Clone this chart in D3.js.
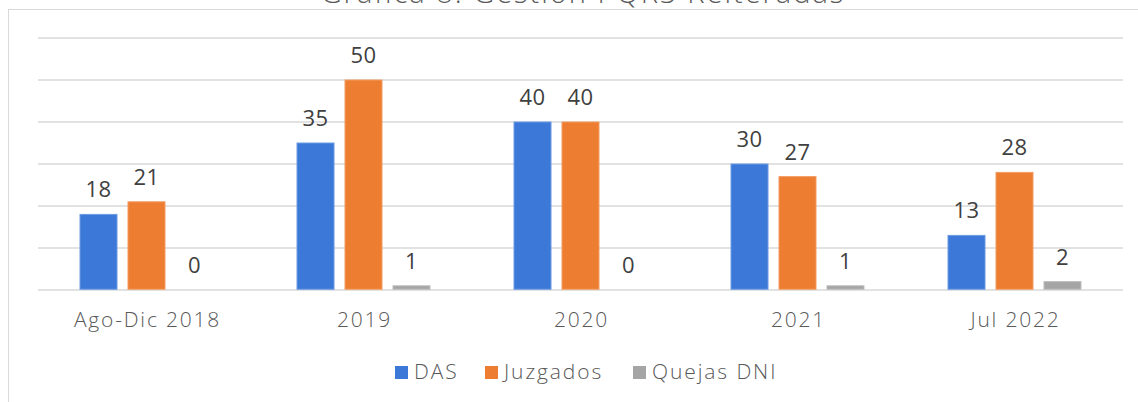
<!DOCTYPE html>
<html><head><meta charset="utf-8">
<script src="https://cdn.jsdelivr.net/npm/d3@7"></script>
<style>body{margin:0;background:#fff;}svg{display:block;}</style>
</head><body>
<svg id="c" width="1138" height="402"></svg>
<script>
const title = "Gráfica 8. Gestión PQRS Reiteradas";
const categories = ["Ago-Dic 2018", "2019", "2020", "2021", "Jul 2022"];
const seriesNames = ["DAS", "Juzgados", "Quejas DNI"];
const das = [18, 35, 40, 30, 13];
const juzgados = [21, 50, 40, 27, 28];
const quejas = [0, 1, 0, 1, 2];
const colors = ["#3c78d8", "#ed7d31", "#a5a5a5"];
const strokes = ["#6d9be3", "#f29d63", "#bdbdbd"];
const yTicks = [0, 10, 20, 30, 40, 50, 60];

const values = [das, juzgados, quejas];
const svg = d3.select("#c");
const font = "'Open Sans', Roboto, sans-serif";

// frame
svg.append("line").attr("x1", 8.5).attr("x2", 8.5).attr("y1", 9).attr("y2", 402).attr("stroke", "#d9d9d9").attr("stroke-width", 1);
svg.append("line").attr("x1", 8).attr("x2", 1138).attr("y1", 9.5).attr("y2", 9.5).attr("stroke", "#d9d9d9").attr("stroke-width", 1);

// title (clipped at top, as in the reference)
svg.append("text").attr("x", 583).attr("y", 3).attr("text-anchor", "middle")
  .attr("font-family", font).attr("font-size", 29).attr("font-weight", 300)
  .attr("letter-spacing", 2).attr("fill", "#595959").text(title);

const x = d3.scaleBand().domain(categories).range([38, 1123]).paddingInner(0.3825).paddingOuter(0.19125);
const xs = d3.scaleBand().domain(seriesNames).range([0, x.bandwidth()]).paddingInner(0.208).paddingOuter(0);
const y = d3.scaleLinear().domain([0, 60]).range([290, 38]);

// grid
svg.append("g").selectAll("line").data(yTicks).join("line")
  .attr("x1", 38).attr("x2", 1123).attr("y1", d => y(d)).attr("y2", d => y(d))
  .attr("stroke", "#d9d9d9").attr("stroke-width", 1.5);

// bars
const groups = svg.append("g").selectAll("g").data(categories).join("g")
  .attr("transform", d => `translate(${x(d)},0)`);
groups.each(function(cat, ci) {
  const g = d3.select(this);
  seriesNames.forEach((s, si) => {
    const v = values[si][ci];
    if (v > 0) {
      g.append("rect").attr("x", xs(s) + 0.5).attr("width", xs.bandwidth() - 1)
        .attr("y", y(v)).attr("height", y(0) - y(v) - 0.75)
        .attr("fill", colors[si]).attr("stroke", strokes[si]).attr("stroke-width", 1);
    }
    g.append("text").attr("x", xs(s) + xs.bandwidth() / 2).attr("y", y(v) - 17)
      .attr("text-anchor", "middle").attr("font-family", font).attr("font-size", 22)
      .attr("letter-spacing", 0.5).attr("fill", "#404040").text(v);
  });
});

// x axis labels
const xAxis = d3.axisBottom(x).tickSize(0).tickPadding(0);
const ax = svg.append("g").attr("transform", "translate(0,290)").call(xAxis);
ax.select(".domain").remove();
ax.selectAll("text").attr("y", 37).attr("dy", 0).attr("x", 1)
  .attr("font-family", font).attr("font-size", 21)
  .attr("font-weight", 300).attr("letter-spacing", 1.8).attr("fill", "#595959");

// legend
const legX = [395, 485, 633];
const leg = svg.append("g").selectAll("g").data(seriesNames).join("g")
  .attr("transform", (d, i) => `translate(${legX[i]},366)`);
leg.append("rect").attr("width", 13).attr("height", 13).attr("fill", (d, i) => colors[i]);
leg.append("text").attr("x", 19).attr("y", 13).attr("font-family", font).attr("font-size", 21)
  .attr("font-weight", 300).attr("letter-spacing", 1.9).attr("fill", "#595959").text(d => d);
</script>
</body></html>
